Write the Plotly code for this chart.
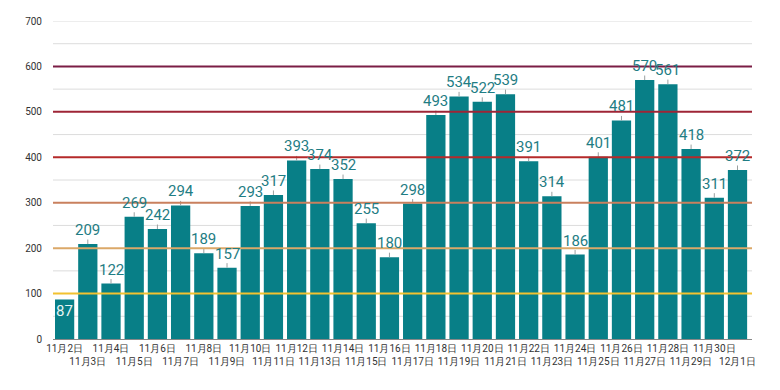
import plotly.graph_objects as go

days = [f"11月{d}日" for d in range(2, 31)] + ["12月1日"]
values = [87, 209, 122, 269, 242, 294, 189, 157, 293, 317, 393, 374, 352, 255, 180,
          298, 493, 534, 522, 539, 391, 314, 186, 401, 481, 570, 561, 418, 311, 372]
threshold_levels = [100, 200, 300, 400, 500, 600]
threshold_colors = ["#f2c230", "#dba868", "#c9805e", "#b52a2a", "#9e2536", "#7b1d45"]

ticktext = [d if i % 2 == 0 else "<br>" + d for i, d in enumerate(days)]

fig = go.Figure()
fig.add_trace(go.Bar(
    x=days, y=values,
    marker=dict(color="#087f87", line=dict(width=0)),
    cliponaxis=False,
    error_y=dict(type="data", symmetric=False,
                 array=[0 if v < 100 else 10 for v in values],
                 arrayminus=[0] * len(values),
                 color="#9aa0a0", thickness=1, width=0),
))

for d, v in zip(days, values):
    inside = v < 100
    fig.add_annotation(
        x=d, y=v, text=str(v), showarrow=False,
        yanchor="top" if inside else "bottom",
        yshift=-1 if inside else 3,
        font=dict(family="Roboto", size=15, color="#e6f4f4" if inside else "#1f7d84"),
    )

for lvl, col in zip(threshold_levels, threshold_colors):
    fig.add_shape(type="line", xref="paper", x0=0, x1=1, y0=lvl, y1=lvl,
                  line=dict(color=col, width=2), layer="above")

fig.update_layout(
    width=780, height=390,
    margin=dict(l=45, r=36, t=13, b=59),
    paper_bgcolor="white", plot_bgcolor="white",
    showlegend=False,
    bargap=0.17,
    font=dict(family="Roboto", color="#333333"),
    xaxis=dict(tickmode="array", tickvals=days, ticktext=ticktext,
               tickangle=0, tickfont=dict(size=10, color="#333333"),
               showgrid=False, showline=True, linecolor="#888888", linewidth=1,
               ticks="", automargin=False),
    yaxis=dict(range=[0, 700], tickvals=[0, 100, 200, 300, 400, 500, 600, 700],
               tickfont=dict(size=10, color="#333333"),
               showgrid=False, zeroline=False, ticks="", ticklabelstandoff=10,
               automargin=False),
)
for g in range(50, 701, 50):
    if g not in threshold_levels:
        fig.add_shape(type="line", xref="paper", x0=0, x1=1, y0=g, y1=g,
                      line=dict(color="#dcdcdc", width=1), layer="below")

fig.write_html("out.html")
